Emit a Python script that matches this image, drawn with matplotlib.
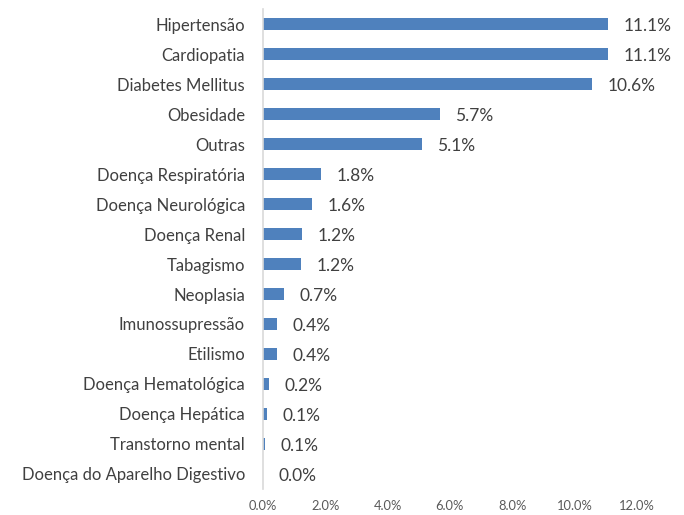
import matplotlib
matplotlib.use("Agg")
import matplotlib.pyplot as plt
from matplotlib.ticker import FuncFormatter

categories = ["Hipertensão", "Cardiopatia", "Diabetes Mellitus", "Obesidade", "Outras",
              "Doença Respiratória", "Doença Neurológica", "Doença Renal", "Tabagismo",
              "Neoplasia", "Imunossupressão", "Etilismo", "Doença Hematológica",
              "Doença Hepática", "Transtorno mental", "Doença do Aparelho Digestivo"]
values = [11.1, 11.1, 10.6, 5.7, 5.1, 1.8, 1.6, 1.2, 1.2, 0.7, 0.4, 0.4, 0.2, 0.1, 0.1, 0.0]
bar_len = [11.09, 11.08, 10.55, 5.67, 5.1, 1.86, 1.57, 1.25, 1.22, 0.67, 0.45, 0.45, 0.19, 0.13, 0.06, 0.0]

plt.rcParams['font.family'] = ['Lato', 'DejaVu Sans']
fig = plt.figure(figsize=(6.84, 5.15), dpi=100)
ax = fig.add_axes([0.3845, 0.0505, 0.9310 - 0.3845, 0.9825 - 0.0505])

y = list(range(len(categories)))
ax.barh(y, bar_len, height=0.4, color="#4f81bd")
for yi, v, b in zip(y, values, bar_len):
    ax.text(b + 0.5, yi + 0.08, f"{v:.1f}%", va="center", ha="left", fontsize=12.5, color="#404040")

ax.set_ylim(len(categories) - 0.5, -0.5)
ax.set_xlim(0, 12)
ax.set_yticks(y)
ax.set_yticklabels(categories, fontsize=12, color="#404040")
ax.set_xticks([0, 2, 4, 6, 8, 10, 12])
ax.xaxis.set_major_formatter(FuncFormatter(lambda x, p: f"{x:.1f}%"))
ax.tick_params(axis="x", labelsize=9.3, colors="#595959", length=0, pad=8)
ax.tick_params(axis="y", length=0, pad=13)
for s in ["top", "right", "bottom"]:
    ax.spines[s].set_visible(False)
ax.spines["left"].set_color("#d9d9d9")
ax.spines["left"].set_linewidth(1.2)

fig.savefig("out.png", dpi=100)
